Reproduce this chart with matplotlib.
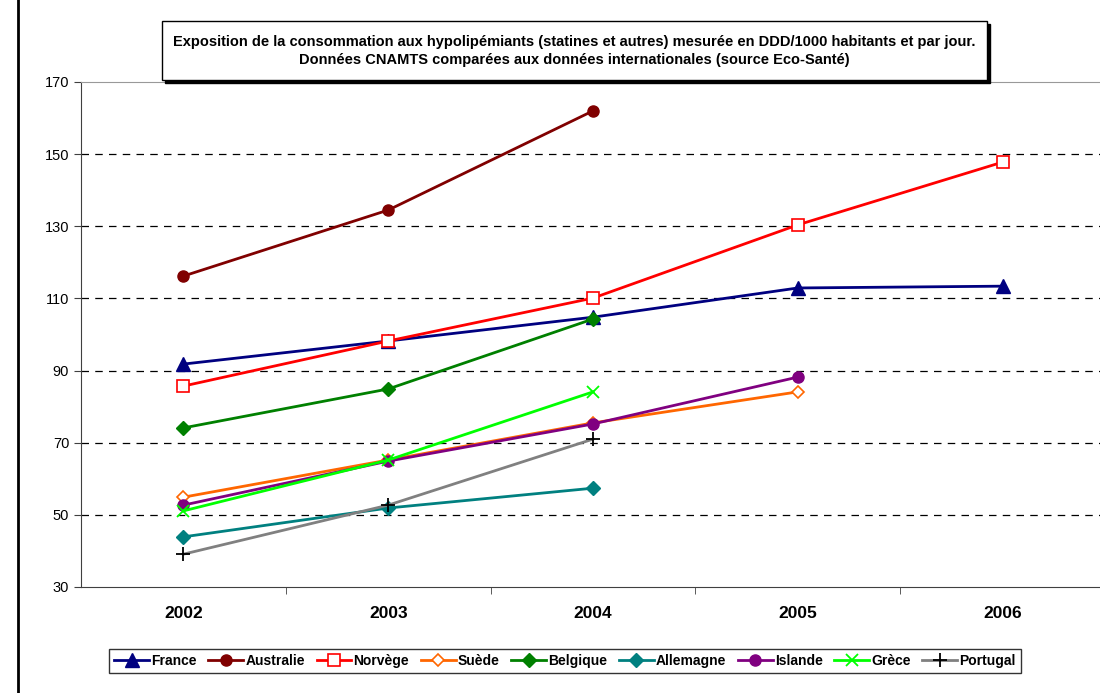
import numpy as np
import matplotlib.pyplot as plt
from matplotlib.lines import Line2D
from matplotlib.patches import Rectangle

# Données (DDD/1000 habitants/jour)
annees = ['2002', '2003', '2004', '2005', '2006']
france = [91.8, 98.2, 104.8, 112.9, 113.4]
australie = [116.2, 134.5, 162.0]
norvege = [85.7, 98.2, 110.1, 130.4, 147.8]
suede = [54.9, 65.2, 75.5, 84.1]
belgique = [74.1, 84.9, 104.3]
allemagne = [43.9, 51.9, 57.4]
islande = [52.7, 64.9, 75.2, 88.2]
grece = [51.1, 65.2, 84.1]
portugal = [39.1, 52.7, 71.0]

series = [
    ('France', france, dict(color='#000080', marker='^', ms=10, mfc='#000080', mec='#000080')),
    ('Australie', australie, dict(color='#800000', marker='o', ms=8, mfc='#800000', mec='#800000')),
    ('Norvège', norvege, dict(color='#FF0000', marker='s', ms=8, mfc='white', mec='#FF0000', mew=1.2)),
    ('Suède', suede, dict(color='#FF6600', marker='D', ms=6, mfc='white', mec='#FF6600', mew=1.2)),
    ('Belgique', belgique, dict(color='#008000', marker='D', ms=7, mfc='#008000', mec='#008000')),
    ('Allemagne', allemagne, dict(color='#008080', marker='D', ms=7, mfc='#008080', mec='#008080')),
    ('Islande', islande, dict(color='#800080', marker='o', ms=8, mfc='#800080', mec='#800080')),
    ('Grèce', grece, dict(color='#00FF00', marker='x', ms=9, mfc='#00FF00', mec='#00FF00', mew=1.3)),
    ('Portugal', portugal, dict(color='#808080', marker='+', ms=10, mfc='black', mec='black', mew=1.3)),
]

plt.rcParams['font.family'] = ['Liberation Sans', 'DejaVu Sans']

fig = plt.figure(figsize=(11, 6.93), dpi=100)
ax = fig.add_axes([81 / 1100, 1 - 587 / 693, 1 - 81 / 1100, (587 - 82) / 693])

x = np.arange(len(annees))
for nom, vals, style in series:
    ax.plot(x[:len(vals)], vals, lw=2, label=nom, **style)

ax.set_ylim(30, 170)
ax.set_yticks(np.arange(30, 171, 20))
ax.set_xlim(-0.5, 4.475)
ax.set_xticks(x)
ax.set_xticklabels(annees, fontsize=12.5, fontweight='bold')
ax.set_xticks(np.arange(0.5, 4.5, 1), minor=True)
ax.tick_params(axis='x', which='major', length=0, pad=14)
ax.tick_params(axis='x', which='minor', length=5, direction='out', color='#404040')
ax.tick_params(axis='y', length=5, direction='out', labelsize=10.5, color='#404040')

for v in np.arange(50, 151, 20):
    ax.axhline(v, color='black', lw=0.9, ls=(0, (6, 5)), zorder=0)

ax.spines['right'].set_visible(False)
ax.spines['top'].set_color('#999999')
ax.spines['left'].set_color('#404040')
ax.spines['bottom'].set_color('#404040')

# Titre dans un cadre avec ombre
ombre = Rectangle((165 / 1100, 1 - 83 / 693), 825 / 1100, 59 / 693, transform=fig.transFigure,
                  facecolor='black', edgecolor='black', zorder=4)
cadre = Rectangle((162 / 1100, 1 - 80 / 693), 825 / 1100, 59 / 693, transform=fig.transFigure,
                  facecolor='white', edgecolor='black', lw=1, zorder=5)
fig.patches.extend([ombre, cadre])
fig.text(574 / 1100, 1 - 51 / 693,
         "Exposition de la consommation aux hypolipémiants (statines et autres) mesurée en DDD/1000 habitants et par jour.\n"
         "Données CNAMTS comparées aux données internationales (source Eco-Santé)",
         ha='center', va='center', fontsize=10.5, fontweight='bold',
         linespacing=1.4, zorder=6)

leg = fig.legend(loc='center', bbox_to_anchor=(565 / 1100, 1 - 661 / 693), ncol=9,
                 frameon=True, fancybox=False, edgecolor='black', handlelength=2.5,
                 handletextpad=0.15, columnspacing=0.85, borderpad=0.35,
                 prop={'weight': 'bold', 'size': 10})
leg.get_frame().set_linewidth(1)

# Trait vertical à gauche
fig.add_artist(Line2D([18 / 1100, 18 / 1100], [0, 1], transform=fig.transFigure, color='black', lw=2))

fig.savefig('out.png', dpi=100)
